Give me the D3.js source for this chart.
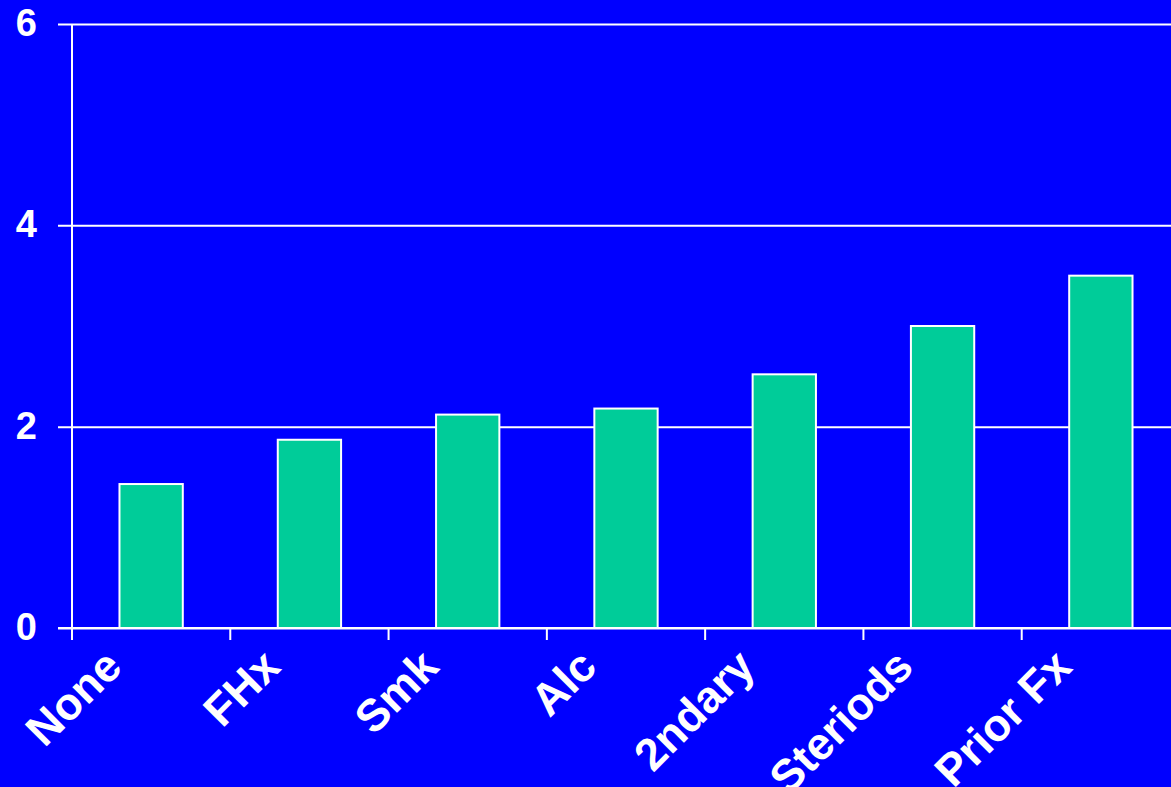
<!DOCTYPE html>
<html>
<head>
<meta charset="utf-8">
<script src="https://cdnjs.cloudflare.com/ajax/libs/d3/7.8.5/d3.min.js"></script>
<style>
  html, body { margin: 0; padding: 0; background: #0000ff; overflow: hidden; }
  text { font-family: "Liberation Sans", Arial, sans-serif; font-weight: bold; fill: #fff; }
</style>
</head>
<body>
<div id="chart"></div>
<script>
var categories = ["None", "FHx", "Smk", "Alc", "2ndary", "Steriods", "Prior Fx"];
var values = [1.43, 1.87, 2.12, 2.18, 2.52, 3.0, 3.5];
var yTicks = [0, 2, 4, 6];

var svgWidth = 1171;
var svgHeight = 787;

var margin = { top: 24, left: 72 };
var width = 1108;
var height = 604;

var svg = d3.select("#chart")
  .append("svg")
  .attr("width", svgWidth)
  .attr("height", svgHeight)
  .style("display", "block");

svg.append("rect")
  .attr("width", svgWidth)
  .attr("height", svgHeight)
  .attr("fill", "#0000ff");

var chartGroup = svg.append("g")
  .attr("transform", `translate(${margin.left}, ${margin.top})`);

//Scales
var x = d3.scaleBand()
  .domain(categories)
  .range([0, width])
  .paddingInner(0.6)
  .paddingOuter(0.3);

var xSlots = d3.scaleBand()
  .domain(categories)
  .range([0, width]);

var y = d3.scaleLinear()
  .domain([0, 6])
  .range([height, 0]);

//Gridlines + y labels
chartGroup.append("g")
  .attr("transform", "translate(-14,0)")
  .call(d3.axisLeft(y).tickValues(yTicks).tickFormat(d3.format("d")).tickSize(-width - 14))
  .call(g => g.select(".domain").remove())
  .call(g => g.selectAll(".tick line")
    .attr("stroke", "#fff").attr("stroke-width", 2)
    .attr("x1", 0))
  .call(g => g.selectAll(".tick text")
    .attr("x", -21)
    .attr("dy", "0.3em")
    .attr("text-anchor", "end")
    .style("font-size", "38px")
    .style("font-family", "Liberation Sans, Arial, sans-serif")
    .style("font-weight", "bold")
    .style("fill", "#fff"));

//Y axis line
chartGroup.append("line")
  .attr("x1", 0).attr("x2", 0)
  .attr("y1", y(6)).attr("y2", height + 12)
  .attr("stroke", "#fff").attr("stroke-width", 2);

//Bars
chartGroup.selectAll(".bar")
  .data(values)
  .enter()
  .append("rect")
  .attr("class", "bar")
  .attr("x", (d, i) => x(categories[i]))
  .attr("y", d => y(d))
  .attr("width", x.bandwidth())
  .attr("height", d => height - y(d))
  .attr("fill", "#00cc99")
  .attr("stroke", "#fff")
  .attr("stroke-width", 2);

//X ticks at slot boundaries
chartGroup.selectAll(".xtick")
  .data(categories)
  .enter()
  .append("line")
  .attr("x1", d => xSlots(d)).attr("x2", d => xSlots(d))
  .attr("y1", height).attr("y2", height + 12)
  .attr("stroke", "#fff").attr("stroke-width", 2);

//Baseline
chartGroup.append("line")
  .attr("x1", -14).attr("x2", width)
  .attr("y1", height).attr("y2", height)
  .attr("stroke", "#fff").attr("stroke-width", 2);

//X labels
chartGroup.selectAll(".xlabel")
  .data(categories)
  .enter()
  .append("text")
  .attr("class", "xlabel")
  .attr("text-anchor", "end")
  .style("font-size", "45px")
  .attr("transform", d => `translate(${x(d) + x.bandwidth() / 2 - 27}, ${height + 41}) rotate(-45)`)
  .text(d => d);
</script>
</body>
</html>
